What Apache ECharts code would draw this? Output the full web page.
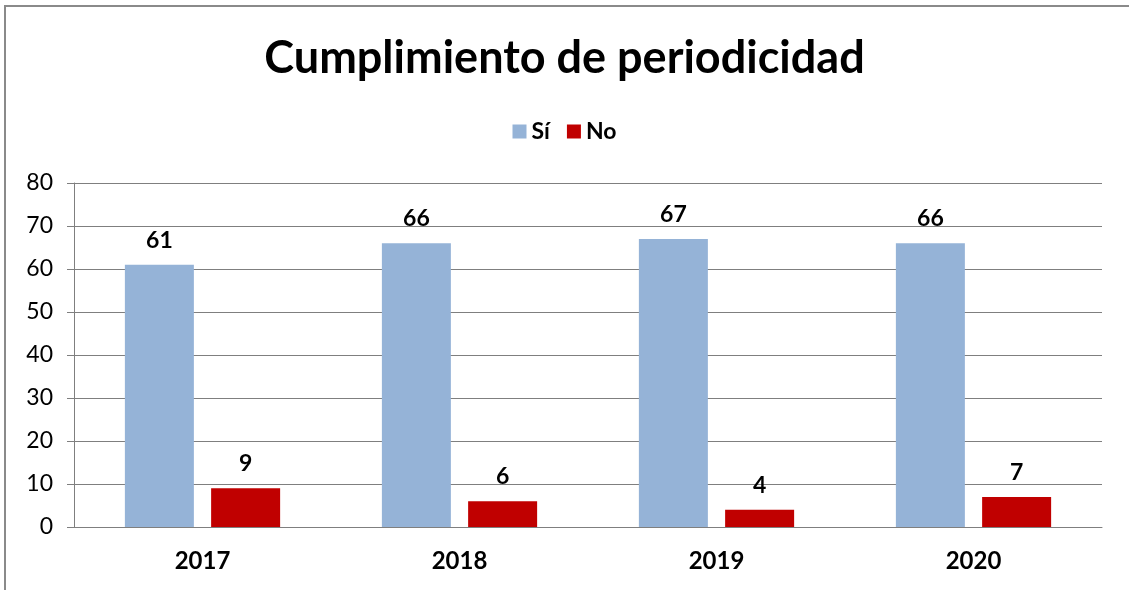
<!DOCTYPE html>
<html>
<head>
<meta charset="utf-8">
<script src="https://cdn.jsdelivr.net/npm/echarts@6/dist/echarts.min.js"></script>
<style>
  html, body { margin: 0; padding: 0; background: #fff; }
  #chart { width: 1129px; height: 590px; }
</style>
</head>
<body>
<div id="chart"></div>
<script>
  const years = ['2017', '2018', '2019', '2020'];
  const si = [61, 66, 67, 66];
  const no = [9, 6, 4, 7];
  const yTicks = [0, 10, 20, 30, 40, 50, 60, 70, 80];

  const font = 'Lato';
  const chart = echarts.init(document.getElementById('chart'));

  const barLabel = {
    show: true,
    position: 'top',
    distance: 13,
    color: '#000',
    fontFamily: font,
    fontWeight: 'bold',
    fontSize: 23
  };

  const option = {
    animation: false,
    backgroundColor: '#fff',
    textStyle: { fontFamily: font },
    title: {
      text: 'Cumplimiento de periodicidad',
      left: 'center',
      top: 31,
      textStyle: { fontFamily: font, fontWeight: 'bold', fontSize: 45, color: '#000' }
    },
    legend: {
      top: 115,
      left: 'center',
      icon: 'rect',
      itemWidth: 14,
      itemHeight: 14,
      itemGap: 17,
      textStyle: { fontFamily: font, fontWeight: 'bold', fontSize: 23, color: '#000' },
      data: ['Sí', 'No']
    },
    graphic: [{
      type: 'rect',
      shape: { x: 5, y: 6, width: 1200, height: 700 },
      style: { fill: 'none', stroke: '#8a8a8a', lineWidth: 2 },
      silent: true
    }],
    grid: { left: 74, right: 27, top: 183, bottom: 63 },
    xAxis: {
      type: 'category',
      data: years,
      axisLine: { show: true, lineStyle: { color: '#7f7f7f', width: 1 } },
      axisTick: { show: false },
      axisLabel: { fontFamily: font, fontWeight: 'bold', fontSize: 24, color: '#000', margin: 22 }
    },
    yAxis: {
      type: 'value',
      min: yTicks[0],
      max: yTicks[yTicks.length - 1],
      interval: 10,
      axisLine: { show: true, lineStyle: { color: '#7f7f7f', width: 1 } },
      axisTick: { show: true, length: 7, lineStyle: { color: '#7f7f7f' } },
      splitLine: { lineStyle: { color: '#7f7f7f', width: 1 } },
      axisLabel: { fontFamily: font, fontSize: 23, color: '#000', margin: 21 }
    },
    series: [
      {
        name: 'Sí',
        type: 'bar',
        data: si,
        barWidth: 69,
        barGap: '25%',
        itemStyle: { color: '#95B3D7' },
        label: barLabel
      },
      {
        name: 'No',
        type: 'bar',
        data: no,
        barWidth: 69,
        itemStyle: { color: '#C00000' },
        label: barLabel
      }
    ]
  };

  chart.setOption(option);
</script>
</body>
</html>
